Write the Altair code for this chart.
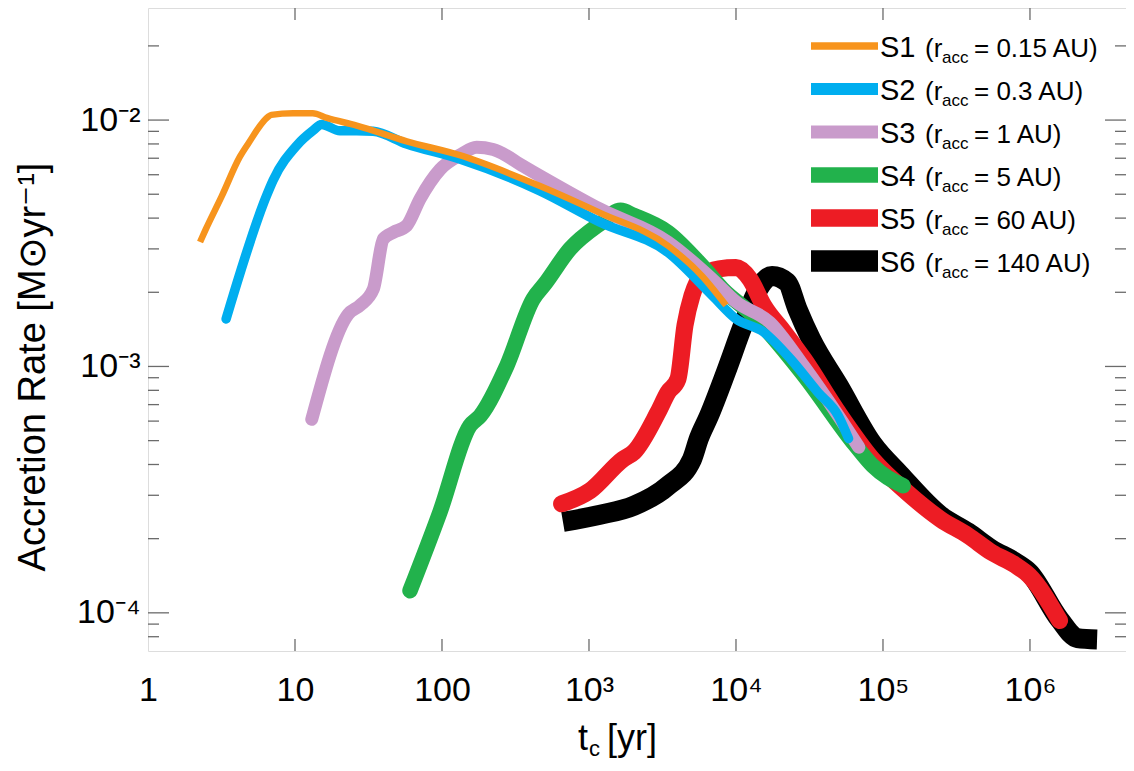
import altair as alt
import pandas as pd

# ---------------- data ----------------
series = ["S1", "S2", "S3", "S4", "S5", "S6"]
racc_text = ["= 0.15 AU)", "= 0.3 AU)", "= 1 AU)", "= 5 AU)", "= 60 AU)", "= 140 AU)"]
colors = ["#F7941D", "#00AEEF", "#C99BCB", "#22B24C", "#ED1C24", "#000000"]
line_widths = [6.5, 9.5, 13, 15.5, 17, 20]
legend_widths = [7.5, 12, 13, 15.5, 17.5, 21.5]
caps = ["butt", "round", "round", "round", "round", "butt"]

t_s1 = [2.26, 2.47, 3.17, 4.22, 4.79, 6.55, 6.9, 9.7, 13.2, 16.5, 26.3, 57.6, 132, 464, 1190, 3445, 5870, 8550]
r_s1 = [3.2e-3, 3.6e-3, 4.9e-3, 7.1e-3, 8.0e-3, 1.03e-2, 1.05e-2, 1.065e-2, 1.065e-2, 1.02e-2, 9.5e-3,
        8.2e-3, 7.2e-3, 5.4e-3, 4.2e-3, 3.09e-3, 2.33e-3, 1.77e-3]

t_s2 = [3.4, 6.4, 7.1, 10.3, 13.2, 15.2, 20.2, 26.3, 34, 57.6, 132, 464, 1190, 3445, 6900, 10000, 15400,
        23600, 36100, 49700, 58300]
r_s2 = [1.56e-3, 4.93e-3, 5.7e-3, 7.9e-3, 9.05e-3, 9.6e-3, 9.05e-3, 9.05e-3, 9.0e-3, 8.0e-3, 6.95e-3,
        5.16e-3, 3.85e-3, 2.9e-3, 1.94e-3, 1.56e-3, 1.38e-3, 1.07e-3, 7.85e-4, 6.3e-4, 5.1e-4]

t_s3 = [13, 23, 27.7, 34.1, 39.9, 46.7, 57.5, 70.8, 97, 132, 172, 223, 357, 464, 1190, 3445, 6900, 10000,
        17000, 29000, 49700, 68500]
r_s3 = [6.1e-4, 1.63e-3, 1.77e-3, 2.06e-3, 3.29e-3, 3.5e-3, 3.73e-3, 4.78e-3, 6.3e-3, 7.2e-3, 7.75e-3,
        7.6e-3, 6.5e-3, 5.94e-3, 4.35e-3, 3.2e-3, 2.26e-3, 1.83e-3, 1.51e-3, 1.0e-3, 6.3e-4, 4.7e-4]

t_s4 = [60.6, 97, 155, 182, 275, 417, 500, 743, 1190, 1640, 2020, 3445, 5870, 8100, 13060, 29000, 65000,
        84900, 137000]
r_s4 = [1.23e-4, 2.57e-4, 5.75e-4, 6.3e-4, 1.0e-3, 1.88e-3, 2.16e-3, 3.0e-3, 3.8e-3, 4.3e-3, 4.1e-3,
        3.5e-3, 2.56e-3, 2.06e-3, 1.61e-3, 9.2e-4, 4.78e-4, 3.96e-4, 3.28e-4]

t_s5 = [651, 1016, 1700, 2020, 2940, 3445, 4030, 4500, 5020, 5870, 7660, 10000, 12450, 15400, 21200, 29000,
        49700, 84900, 145000, 246000, 378000, 548000, 797000, 985000, 1590000]
r_s5 = [2.77e-4, 3.13e-4, 4.2e-4, 4.49e-4, 6.5e-4, 7.85e-4, 8.9e-4, 1.47e-3, 1.94e-3, 2.33e-3, 2.49e-3,
        2.52e-3, 2.26e-3, 1.77e-3, 1.38e-3, 1.07e-3, 6.5e-4, 4.2e-4, 3.09e-4, 2.4e-4, 2.06e-4, 1.76e-4,
        1.56e-4, 1.42e-4, 9.3e-5]

t_s6 = [665, 1190, 2020, 3445, 5020, 5590, 6550, 8550, 11170, 13800, 17600, 22200, 26200, 32400, 49700,
        84900, 130000, 246000, 378000, 548000, 797000, 985000, 1590000, 2100000, 2860000]
r_s6 = [2.34e-4, 2.5e-4, 2.72e-4, 3.28e-4, 4.2e-4, 5.1e-4, 6.3e-4, 9.5e-4, 1.47e-3, 2.0e-3, 2.33e-3,
        2.2e-3, 1.71e-3, 1.29e-3, 8.4e-4, 4.85e-4, 3.65e-4, 2.48e-4, 2.12e-4, 1.81e-4, 1.6e-4, 1.46e-4,
        9.4e-5, 7.9e-5, 7.8e-5]

x_major = [1, 10, 100, 1000, 1e4, 1e5, 1e6]
y_major = [1e-4, 1e-3, 1e-2]
y_minor = [8e-5, 9e-5, 2e-4, 3e-4, 4e-4, 5e-4, 6e-4, 7e-4, 8e-4, 9e-4,
           2e-3, 3e-3, 4e-3, 5e-3, 6e-3, 7e-3, 8e-3, 9e-3, 2e-2]

# ---------------- layout ----------------
W, H = 978, 643
FONT = "Liberation Sans"
GRAY = "#6b6b6b"

xs = alt.Scale(type="log", domain=[1, 4.5e6], nice=False)
ys = alt.Scale(type="log", domain=[7.0e-5, 0.0285], nice=False)

x_axis = alt.Axis(
    values=x_major, title=None, grid=False, domain=False, ticks=False, tickSize=0,
    labelFlush=False, labelOverlap=False, labelFont=FONT, labelFontSize=34, labelColor="black",
    labelPadding=22,
    labelExpr="datum.value < 5 ? '1' : datum.value < 50 ? '10' : datum.value < 500 ? '100' : "
              "datum.value < 5000 ? '10³' : datum.value < 50000 ? '10⁴' : datum.value < 500000 ? '10⁵' : '10⁶'",
)
y_axis = alt.Axis(
    values=y_major, title=None, grid=False, domain=False, ticks=False, tickSize=0,
    labelFlush=False, labelOverlap=False, labelFont=FONT, labelFontSize=34, labelColor="black",
    labelPadding=8,
    labelExpr="datum.value < 5e-4 ? '10⁻⁴' : datum.value < 5e-3 ? '10⁻³' : '10⁻²'",
)


def X(field):
    return alt.X(field, type="quantitative", scale=xs, axis=x_axis)


def Y(field):
    return alt.Y(field, type="quantitative", scale=ys, axis=y_axis)


layers = []

# inward tick marks on all four sides
df_xt = pd.DataFrame({"t": x_major[1:]})
df_ymaj = pd.DataFrame({"r": y_major})
df_ymin = pd.DataFrame({"r": y_minor})
tick = dict(color=GRAY, strokeWidth=1.3)
layers.append(alt.Chart(df_xt).mark_rule(**tick).encode(x=X("t"), y=alt.value(H), y2=alt.value(H - 12)))
layers.append(alt.Chart(df_xt).mark_rule(**tick).encode(x=X("t"), y=alt.value(0), y2=alt.value(12)))
layers.append(alt.Chart(df_ymaj).mark_rule(**tick).encode(y=Y("r"), x=alt.value(0), x2=alt.value(21)))
layers.append(alt.Chart(df_ymaj).mark_rule(**tick).encode(y=Y("r"), x=alt.value(W), x2=alt.value(W - 21)))
layers.append(alt.Chart(df_ymin).mark_rule(**tick).encode(y=Y("r"), x=alt.value(0), x2=alt.value(11)))
layers.append(alt.Chart(df_ymin).mark_rule(**tick).encode(y=Y("r"), x=alt.value(W), x2=alt.value(W - 11)))

# the six curves (S6 drawn first, S1 on top)
all_t = [t_s1, t_s2, t_s3, t_s4, t_s5, t_s6]
all_r = [r_s1, r_s2, r_s3, r_s4, r_s5, r_s6]
for k in reversed(range(6)):
    df = pd.DataFrame({"t": all_t[k], "r": all_r[k], "i": list(range(len(all_t[k])))})
    layers.append(
        alt.Chart(df).mark_line(
            color=colors[k], strokeWidth=line_widths[k], strokeCap=caps[k], strokeJoin="round",
            interpolate="monotone",
        ).encode(x=X("t"), y=Y("r"), order="i:Q")
    )


def txt(s, x, y, size, angle=0, align="left", baseline="alphabetic"):
    return alt.Chart(pd.DataFrame({"s": [s]})).mark_text(
        font=FONT, fontSize=size, angle=angle, align=align, baseline=baseline, color="black"
    ).encode(x=alt.value(x), y=alt.value(y), text="s:N")


# axis titles
layers.append(txt("Accretion Rate [M⊙yr⁻¹]", -114, 359, 38, angle=270, align="center", baseline="middle"))
layers.append(txt("t", 430, 742, 36))
layers.append(txt("c", 441, 748, 22))
layers.append(txt("[yr]", 459, 742, 36))

plot = alt.layer(*layers)

# legend
df_leg = pd.DataFrame({
    "row": list(range(6)),
    "series": series,
    "rest": racc_text,
    "color": colors,
    "lw": legend_widths,
    "r": ["(r"] * 6,
    "sub": ["acc"] * 6,
})
ly = alt.Y("row:Q", scale=alt.Scale(domain=[0, 5], range=[49, 264]), axis=None)
leg_sym = alt.Chart(df_leg).mark_rule(yOffset=-11, strokeCap="butt").encode(
    x=alt.value(663), x2=alt.value(730), y=ly,
    color=alt.Color("color:N", scale=None, legend=None),
    strokeWidth=alt.StrokeWidth("lw:Q", scale=None, legend=None),
)


def leg_text(field, x, size, dy=0):
    return alt.Chart(df_leg).mark_text(
        font=FONT, fontSize=size, align="left", baseline="alphabetic", color="black", dy=dy
    ).encode(x=alt.value(x), y=ly, text=f"{field}:N")


legend = alt.layer(
    leg_sym,
    leg_text("series", 732, 29),
    leg_text("r", 777, 26),
    leg_text("sub", 794, 17, dy=6),
    leg_text("rest", 826, 26),
)

chart = alt.layer(plot, legend).resolve_scale(y="independent").properties(
    width=W, height=H,
    autosize=alt.AutoSizeParams(type="none"),
    padding={"left": 140, "top": 0, "right": 0, "bottom": 118},
    background="white",
).configure_view(stroke=GRAY, strokeWidth=1.5).configure(font=FONT)

chart.save("out.html", embed_options={"renderer": "svg", "actions": False})
